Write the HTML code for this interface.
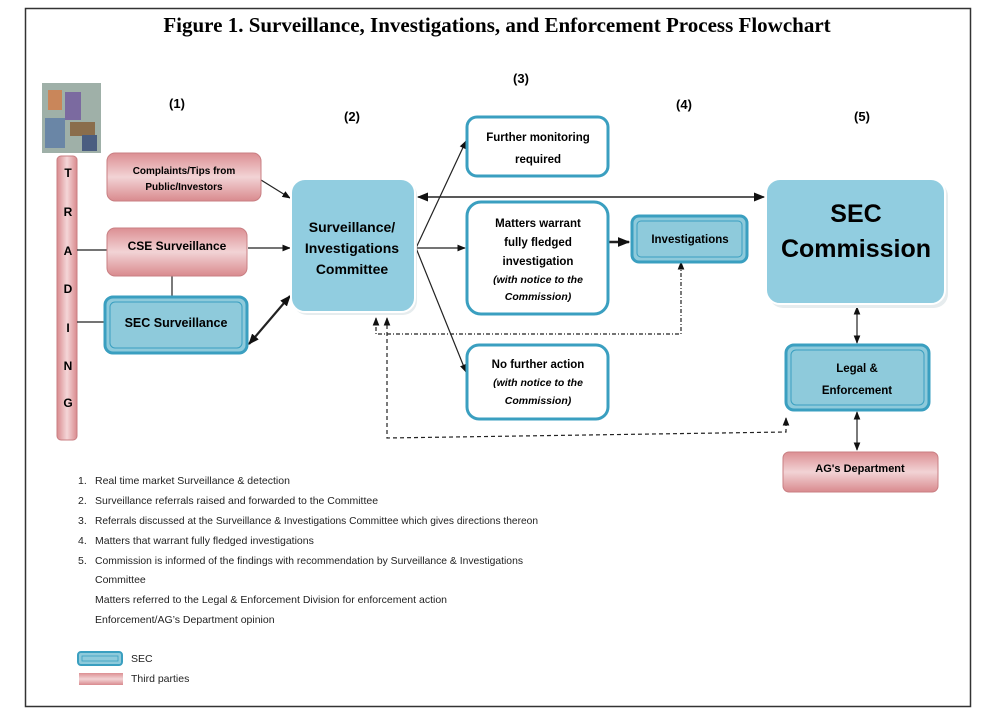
<!DOCTYPE html>
<html><head><meta charset="utf-8"><style>
html,body{margin:0;padding:0;background:#fff}
svg text{font-family:"Liberation Sans",sans-serif}
</style></head><body>
<svg width="1000" height="713" viewBox="0 0 1000 713" xmlns="http://www.w3.org/2000/svg">
<defs>
<linearGradient id="pk" x1="0" y1="0" x2="0" y2="1"><stop offset="0" stop-color="#dc8f93"/><stop offset="0.5" stop-color="#f2d3d5"/><stop offset="1" stop-color="#d98a8e"/></linearGradient>
<linearGradient id="pkv" x1="0" y1="0" x2="1" y2="0"><stop offset="0" stop-color="#d98a8e"/><stop offset="0.5" stop-color="#f4d6d8"/><stop offset="1" stop-color="#d98a8e"/></linearGradient>
<marker id="a" viewBox="0 0 10 10" refX="9" refY="5" markerWidth="7" markerHeight="7" orient="auto-start-reverse"><path d="M0,1 L10,5 L0,9 z" fill="#111"/></marker>
<marker id="s" viewBox="0 0 10 10" refX="9" refY="5" markerWidth="5" markerHeight="5" orient="auto-start-reverse"><path d="M0,1 L10,5 L0,9 z" fill="#111"/></marker>
</defs>
<rect x="25.5" y="8.5" width="945" height="698" fill="#fff" stroke="#333" stroke-width="1.5"/>
<text x="497" y="32" text-anchor="middle" font-family="Liberation Serif" font-weight="bold" font-size="21" style="font-family:'Liberation Serif',serif">Figure 1. Surveillance, Investigations, and Enforcement Process Flowchart</text>

<!-- picture -->
<rect x="42" y="83" width="59" height="70" fill="#9fb0a8"/>
<rect x="48" y="90" width="14" height="20" fill="#c9865a"/>
<rect x="65" y="92" width="16" height="28" fill="#7b6aa0"/>
<rect x="45" y="118" width="20" height="30" fill="#6a86a6"/>
<rect x="70" y="122" width="25" height="14" fill="#8a6d4c"/>
<rect x="82" y="135" width="15" height="16" fill="#4a5d80"/>

<!-- labels -->
<g font-weight="bold" font-size="13" text-anchor="middle">
<text x="177" y="108">(1)</text><text x="352" y="121">(2)</text><text x="521" y="83">(3)</text><text x="684" y="109">(4)</text><text x="862" y="121">(5)</text>
</g>

<!-- TRADING -->
<rect x="57" y="156" width="20" height="284" rx="4" fill="url(#pkv)" stroke="#c97f83"/>
<g font-weight="bold" font-size="12" text-anchor="middle">
<text x="68" y="177">T</text><text x="68" y="216">R</text><text x="68" y="255">A</text><text x="68" y="293">D</text><text x="68" y="332">I</text><text x="68" y="370">N</text><text x="68" y="407">G</text>
</g>

<!-- connectors -->
<g stroke="#222" stroke-width="1.2" fill="none">
<line x1="77" y1="250" x2="107" y2="250"/>
<line x1="77" y1="322" x2="105" y2="322"/>
<line x1="172" y1="276" x2="172" y2="297"/>
<line x1="261" y1="180" x2="290" y2="198" marker-end="url(#a)"/>
<line x1="248" y1="248" x2="290" y2="248" marker-end="url(#a)"/>
<line x1="249" y1="344" x2="290" y2="296" stroke-width="2.2" marker-start="url(#s)" marker-end="url(#s)"/>
<line x1="416" y1="248" x2="466" y2="141" marker-end="url(#a)"/>
<line x1="416" y1="248" x2="465" y2="248" marker-end="url(#a)"/>
<line x1="416" y1="248" x2="466" y2="372" marker-end="url(#a)"/>
<line x1="418" y1="197" x2="764" y2="197" stroke-width="1.6" marker-start="url(#a)" marker-end="url(#a)"/>
<line x1="598" y1="242" x2="629" y2="242" stroke-width="2.5" marker-end="url(#s)"/>
<polyline points="376,318 376,334 681,334 681,262" stroke-dasharray="4,2,1,2" marker-start="url(#a)" marker-end="url(#a)"/>
<polyline points="387,318 387,438 786,432 786,418" stroke-dasharray="4,3" marker-start="url(#a)" marker-end="url(#a)"/>
<line x1="857" y1="307" x2="857" y2="343" marker-start="url(#a)" marker-end="url(#a)"/>
<line x1="857" y1="412" x2="857" y2="450" marker-start="url(#a)" marker-end="url(#a)"/>
</g>

<!-- pink boxes -->
<rect x="107" y="153" width="154" height="48" rx="8" fill="url(#pk)" stroke="#c97f83"/>
<text x="184" y="174" text-anchor="middle" font-weight="bold" font-size="10">Complaints/Tips from</text>
<text x="184" y="190" text-anchor="middle" font-weight="bold" font-size="10">Public/Investors</text>
<rect x="107" y="228" width="140" height="48" rx="8" fill="url(#pk)" stroke="#c97f83"/>
<text x="177" y="250" text-anchor="middle" font-weight="bold" font-size="12">CSE Surveillance</text>
<rect x="783" y="452" width="155" height="40" rx="6" fill="url(#pk)" stroke="#c97f83"/>
<text x="860" y="472" text-anchor="middle" font-weight="bold" font-size="11">AG's Department</text>

<!-- SEC double boxes -->
<rect x="105" y="297" width="142" height="56" rx="8" fill="#8ecadb" stroke="#3a9fc0" stroke-width="3"/>
<rect x="110" y="302" width="132" height="46" rx="5" fill="none" stroke="#3a9fc0" stroke-width="1"/>
<text x="176" y="327" text-anchor="middle" font-weight="bold" font-size="12.5">SEC Surveillance</text>
<rect x="632" y="216" width="115" height="46" rx="7" fill="#8ecadb" stroke="#3a9fc0" stroke-width="3"/>
<rect x="637" y="221" width="105" height="36" rx="4" fill="none" stroke="#3a9fc0"/>
<text x="690" y="243" text-anchor="middle" font-weight="bold" font-size="11.5">Investigations</text>
<rect x="786" y="345" width="143" height="65" rx="8" fill="#8ecadb" stroke="#3a9fc0" stroke-width="3"/>
<rect x="791" y="350" width="133" height="55" rx="5" fill="none" stroke="#3a9fc0"/>
<text x="857" y="372" text-anchor="middle" font-weight="bold" font-size="11.5">Legal &amp;</text>
<text x="857" y="394" text-anchor="middle" font-weight="bold" font-size="11.5">Enforcement</text>

<!-- Committee and Commission -->
<rect x="293" y="181" width="124" height="134" rx="14" fill="#e6ecee"/>
<rect x="291" y="179" width="124" height="133" rx="14" fill="#91cde0" stroke="#fff" stroke-width="2"/>
<text x="352" y="232" text-anchor="middle" font-weight="bold" font-size="14">Surveillance/</text>
<text x="352" y="253" text-anchor="middle" font-weight="bold" font-size="14">Investigations</text>
<text x="352" y="274" text-anchor="middle" font-weight="bold" font-size="14">Committee</text>
<rect x="769" y="182" width="179" height="126" rx="14" fill="#e6ecee"/>
<rect x="766" y="179" width="179" height="125" rx="14" fill="#91cde0" stroke="#fff" stroke-width="2"/>
<text x="856" y="222" text-anchor="middle" font-weight="bold" font-size="25">SEC</text>
<text x="856" y="257" text-anchor="middle" font-weight="bold" font-size="25">Commission</text>

<!-- white boxes -->
<g fill="#fff" stroke="#3a9fc0" stroke-width="3">
<rect x="467" y="117" width="141" height="59" rx="10"/>
<rect x="467" y="202" width="141" height="112" rx="14"/>
<rect x="467" y="345" width="141" height="74" rx="12"/>
</g>
<g text-anchor="middle" font-weight="bold" font-size="11.5">
<text x="538" y="141">Further monitoring</text><text x="538" y="163">required</text>
<text x="538" y="227">Matters warrant</text><text x="538" y="246">fully fledged</text><text x="538" y="265">investigation</text>
<text x="538" y="283" font-style="italic" font-size="10.5">(with notice to the</text><text x="538" y="300" font-style="italic" font-size="10.5">Commission)</text>
<text x="538" y="368">No further action</text>
<text x="538" y="386" font-style="italic" font-size="10.5">(with notice to the</text><text x="538" y="404" font-style="italic" font-size="10.5">Commission)</text>
</g>

<!-- notes -->
<g font-size="10.5" fill="#222">
<text x="78" y="484">1.</text><text x="95" y="484">Real time market Surveillance &amp; detection</text>
<text x="78" y="504">2.</text><text x="95" y="504">Surveillance referrals raised and forwarded to the Committee</text>
<text x="78" y="524">3.</text><text x="95" y="524" textLength="443" lengthAdjust="spacingAndGlyphs">Referrals discussed at the Surveillance &amp; Investigations Committee which gives directions thereon</text>
<text x="78" y="544">4.</text><text x="95" y="544">Matters that warrant fully fledged investigations</text>
<text x="78" y="564">5.</text><text x="95" y="564" textLength="428" lengthAdjust="spacingAndGlyphs">Commission is informed of the findings with recommendation by Surveillance &amp; Investigations</text>
<text x="95" y="583">Committee</text>
<text x="95" y="603" textLength="352" lengthAdjust="spacingAndGlyphs">Matters referred to the Legal &amp; Enforcement Division for enforcement action</text>
<text x="95" y="623">Enforcement/AG’s Department opinion</text>
<rect x="78" y="652" width="44" height="13" rx="3" fill="#8ecadb" stroke="#3a9fc0" stroke-width="2"/>
<rect x="82" y="656" width="36" height="5" fill="none" stroke="#3a9fc0" stroke-width="0.8"/>
<text x="131" y="662">SEC</text>
<rect x="79" y="673" width="44" height="12" fill="url(#pk)"/>
<text x="131" y="682">Third parties</text>
</g>
</svg>
</body></html>
